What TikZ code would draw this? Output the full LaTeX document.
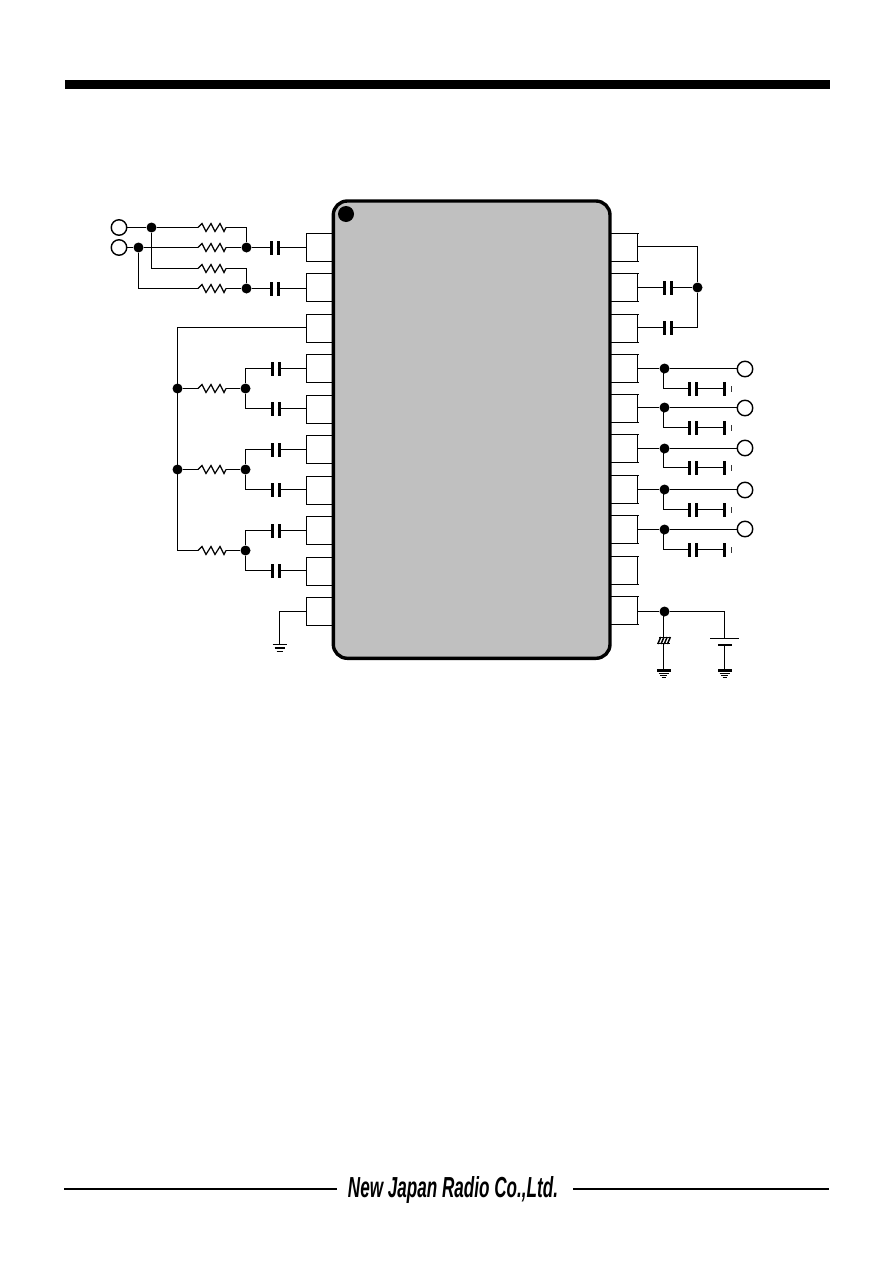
\documentclass[tikz,border=0pt]{standalone}
\usepackage{fontspec}
\setmainfont{Liberation Sans}
\definecolor{chipgray}{HTML}{C0C0C0}
\begin{document}
\begin{tikzpicture}[x=1pt,y=-1pt,line width=1.2pt,line join=miter]
\tikzset{
  blob/.style={circle,fill=black,draw=none,minimum size=10pt,inner sep=0pt},
  term/.style={circle,fill=white,draw=black,line width=1.4pt,minimum size=15.5pt,inner sep=0pt},
  resis/.pic={\draw (-14,0)--(-10,-4)--(-6,4)--(-1,-4)--(3,4)--(8,-4)--(12,4)--(14,0);
    \coordinate (-w) at (-14,0); \coordinate (-e) at (14,0);},
  capac/.pic={\fill[black] (-5,-7) rectangle (-2,7); \fill[black] (2,-7) rectangle (5,7);
    \coordinate (-w) at (-2,0); \coordinate (-e) at (2,0);},
  gndplate/.pic={\fill[black] (-2,-7) rectangle (1.5,7); \fill[black!80] (6,-3) rectangle (7.5,3);
    \coordinate (-w) at (-2,0);},
  earth/.pic={\draw (-7,0)--(7,0) (-5,3.5)--(5,3.5) (-3,7)--(3,7); \coordinate (-t) at (0,0);},
  earthb/.pic={\fill[black] (-7,-1.5) rectangle (7,1.5); \draw[line width=0.7pt] (-5,3.2)--(5,3.2) (-3.5,5.2)--(3.5,5.2) (-2,7.2)--(2,7.2); \coordinate (-t) at (0,-1.5);},
  pinl/.pic={\draw (27,-14)--(0,-14)--(0,14)--(27,14); \coordinate (-c) at (0,0);},
  pinr/.pic={\draw (-28,-14)--(1,-14) (0,-14)--(0,14) (1,14)--(-28,14); \coordinate (-c) at (0,0);},
}
\useasboundingbox (0,0) rectangle (892,1263);
\fill[white] (0,0) rectangle (892,1263);
% page furniture
\fill[black] (65,80) rectangle (830,89);
\draw[line width=1.5pt] (64,1189)--(337,1189) (573,1189)--(829,1189);
\node[inner sep=0pt] (logo) at (453,1190) {\resizebox{210pt}{21pt}{\bfseries\itshape New Japan Radio Co.,Ltd.}};
% pins
\foreach \n/\y in {1/247.5,2/287.5,3/328.5,4/368.5,5/409.5,6/449.5,7/490.5,8/530.5,9/571.5,10/611.5}
  \pic (L\n) at (306.5,\y) {pinl};
\foreach \n/\y in {1/247.5,2/287.5,3/328.5,4/368.5,5/408.5,6/448.5,7/489.5,8/529.5,9/570.5,10/610.5}
  \pic (R\n) at (637.5,\y) {pinr};
% chip
\draw[line width=3.4pt,fill=chipgray,rounded corners=14pt] (333.3,201) rectangle (610,658.3);
\node[circle,fill=black,minimum size=16pt,inner sep=0pt] (pin1mark) at (346,214) {};
% input terminals
\node[term] (t1) at (119,227.5) {};
\node[term] (t2) at (119,247.5) {};
\node[blob] (d1) at (151.5,227.5) {};
\node[blob] (d2) at (138.5,247.5) {};
\node[blob] (d3) at (246.5,247.5) {};
\node[blob] (d4) at (246.5,288.5) {};
\pic (r1) at (212,227.5) {resis};
\pic (r2) at (212,247.5) {resis};
\pic (r3) at (212,268.5) {resis};
\pic (r4) at (212,288.5) {resis};
\pic (c1) at (274.5,247.5) {capac};
\pic (c2) at (274.5,288.5) {capac};
\draw (t1)--(d1)--(r1-w);
\draw (r1-e)-|(d3);
\draw (t2)--(d2)--(r2-w);
\draw (r2-e)--(d3)--(c1-w);
\draw (c1-e)--(c1-e-|L1-c);
\draw (d1)|-(r3-w);
\draw (r3-e)-|(d4);
\draw (d2)|-(r4-w);
\draw (r4-e)--(d4)--(c2-w);
\draw (c2-e)--(c2-e-|L2-c);
% resistor network
\node[blob] (d5) at (177.5,388.5) {};
\node[blob] (d6) at (177.5,469.5) {};
\node[blob] (d7) at (245.5,388.5) {};
\node[blob] (d8) at (245.5,469.5) {};
\node[blob] (d9) at (245.5,550.5) {};
\pic (r5) at (212,388.5) {resis};
\pic (r6) at (212,469.5) {resis};
\pic (r7) at (212,550.5) {resis};
\foreach \n/\y in {3/368.5,4/408.5,5/449.5,6/489.5,7/530.5,8/570.5}
  \pic (c\n) at (275.7,\y) {capac};
\coordinate (kt) at (177.5,327.5);
\coordinate (kb) at (177.5,550.5);
\draw (kt-|L3-c)--(kt)--(kb)--(r7-w);
\draw (d5)--(r5-w) (r5-e)--(d7);
\draw (d6)--(r6-w) (r6-e)--(d8);
\draw (r7-e)--(d9);
\draw (d7)|-(c3-w) (c3-e)--(c3-e-|L4-c);
\draw (d7)|-(c4-w) (c4-e)--(c4-e-|L5-c);
\draw (d8)|-(c5-w) (c5-e)--(c5-e-|L6-c);
\draw (d8)|-(c6-w) (c6-e)--(c6-e-|L7-c);
\draw (d9)|-(c7-w) (c7-e)--(c7-e-|L8-c);
\draw (d9)|-(c8-w) (c8-e)--(c8-e-|L9-c);
% ground left
\pic (g1) at (279.5,644.5) {earth};
\coordinate (gj) at (306.5,611.5);
\draw (gj)-|(g1-t);
% right top
\node[blob] (d10) at (697.5,287.5) {};
\pic (c9) at (667.5,287.5) {capac};
\pic (c10) at (667.5,327.5) {capac};
\coordinate (rt) at (637.5,246.5);
\draw (rt)-|(d10);
\draw (c9-w-|R2-c)--(c9-w) (c9-e)--(d10);
\draw (c10-w-|R3-c)--(c10-w) (c10-e)-|(d10);
% outputs
\foreach \n/\p/\y/\yy/\ty in {1/4/368.5/388.5/369,2/5/407.5/427.5/408,3/6/448.5/467.5/448,4/7/489.5/509.5/490,5/8/529.5/549.5/529}{
  \node[blob] (o\n) at (664.5,\y) {};
  \node[term] (ot\n) at (745,\ty) {};
  \pic (oc\n) at (693,\yy) {capac};
  \pic (og\n) at (724.5,\yy) {gndplate};
  \coordinate (oj\n) at (663.5,\yy);
  \draw (o\n-|R\p-c)--(o\n)--(o\n-|ot\n.west);
  \draw (o\n-|oj\n)--(oj\n)--(oc\n-w);
  \draw (oc\n-e)--(og\n-w);
}
% supply
\node[blob] (d11) at (664.5,611.5) {};
\coordinate (bt) at (724.5,638);
\coordinate (bb) at (724.5,645);
\pic (g2) at (663.5,670.5) {earthb};
\pic (g3) at (724.5,670.5) {earthb};
\coordinate (zt) at (663.5,637);
\coordinate (zb) at (663.5,644);
\draw (d11-|R10-c)--(d11);
\draw (d11)-|(bt);
\draw[line width=1.4pt] (710,638.3)--(739,638.3);
\fill[black] (718,643.8) rectangle (732,645.8);
\draw (bb)--(g3-t);
\draw (d11-|zt)--(zt);
\draw (zb)--(g2-t);
\fill[black] (659,636.8) rectangle (671,638.3);
\fill[black] (657,642.8) rectangle (670,644.3);
\draw[line width=1.5pt] (657.8,644)--(660.8,637) (661,644)--(664,637) (664.2,644)--(667.2,637) (667.4,644)--(670.4,637);
\end{tikzpicture}
\end{document}
